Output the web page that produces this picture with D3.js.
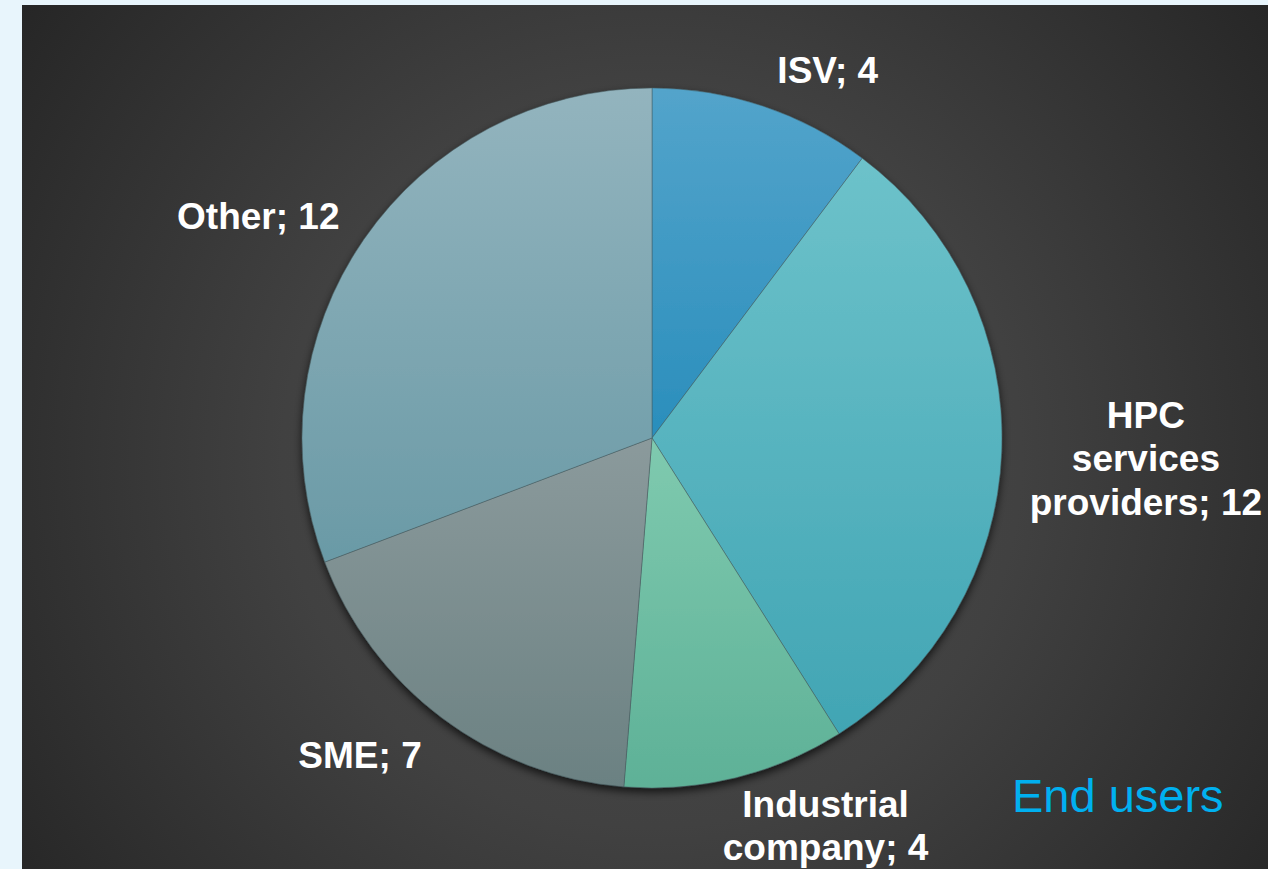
<!DOCTYPE html>
<html>
<head>
<meta charset="utf-8">
<script src="https://cdn.jsdelivr.net/npm/d3@7"></script>
<style>
  html, body { margin: 0; padding: 0; background: #e8f5fc; }
  svg { display: block; }
</style>
</head>
<body>
<script>
// Respondent breakdown
const categories = ["ISV", "HPC services providers", "Industrial company", "SME", "Other"];
const values = [4, 12, 4, 7, 12];
const labelLines = [["ISV; 4"], ["HPC", "services", "providers; 12"], ["Industrial", "company; 4"], ["SME; 7"], ["Other; 12"]];
const sliceTop = ["#53a4cb", "#6dc2ca", "#7fcaaf", "#8b9a9c", "#93b4be"];
const sliceBottom = ["#2a8ebc", "#41a5b4", "#5eb197", "#6b8182", "#6a9aa6"];
const title = "End users";

const W = 1268, H = 869;
const panel = { x: 22, y: 5 };
const cx = 652, cy = 438, R = 350;

const svg = d3.select("body").append("svg").attr("width", W).attr("height", H);
const defs = svg.append("defs");

// dark panel backdrop
const bg = defs.append("radialGradient").attr("id", "bg")
  .attr("gradientUnits", "userSpaceOnUse")
  .attr("cx", cx).attr("cy", cy + 20).attr("r", 820);
bg.append("stop").attr("offset", 0).attr("stop-color", "#4b4b4b");
bg.append("stop").attr("offset", 0.45).attr("stop-color", "#414141");
bg.append("stop").attr("offset", 1).attr("stop-color", "#232323");

svg.append("rect").attr("x", panel.x).attr("y", panel.y)
  .attr("width", W - panel.x).attr("height", H - panel.y)
  .attr("fill", "url(#bg)");

// soft shadow under the pie
const sh = defs.append("filter").attr("id", "shadow")
  .attr("x", "-10%").attr("y", "-10%").attr("width", "120%").attr("height", "125%");
sh.append("feGaussianBlur").attr("in", "SourceAlpha").attr("stdDeviation", 4).attr("result", "b");
sh.append("feOffset").attr("in", "b").attr("dx", 0).attr("dy", 4).attr("result", "o");
sh.append("feComponentTransfer").attr("in", "o").attr("result", "s")
  .append("feFuncA").attr("type", "linear").attr("slope", 0.7);
const m = sh.append("feMerge");
m.append("feMergeNode").attr("in", "s");
m.append("feMergeNode").attr("in", "SourceGraphic");

// per-slice vertical gradients
categories.forEach((c, i) => {
  const g = defs.append("linearGradient").attr("id", "slice" + i)
    .attr("x1", 0).attr("y1", 0).attr("x2", 0).attr("y2", 1);
  g.append("stop").attr("offset", 0).attr("stop-color", sliceTop[i]);
  g.append("stop").attr("offset", 1).attr("stop-color", sliceBottom[i]);
});

const pie = d3.pie().sort(null).value(d => d)(values);
const arc = d3.arc().innerRadius(0).outerRadius(R);

const pieG = svg.append("g").attr("transform", `translate(${cx},${cy})`)
  .attr("filter", "url(#shadow)");
pieG.selectAll("path").data(pie).join("path")
  .attr("d", arc)
  .attr("fill", (d, i) => `url(#slice${i})`)
  .attr("stroke", "rgba(70,90,95,0.6)")
  .attr("stroke-width", 0.8);

// outside-end data labels: the box corner facing the pie sits on the slice's mid ray
const fontSize = 37, lineH = 43.5, gap = 20, padX = 8;
const clamp = v => Math.max(-1, Math.min(1, v));
const labelG = svg.append("g");
pie.forEach((d, i) => {
  const a = (d.startAngle + d.endAngle) / 2;
  const dx = Math.sin(a), dy = -Math.cos(a);
  const ax = cx + (R + gap) * dx, ay = cy + (R + gap) * dy;
  const t = labelG.append("text")
    .attr("font-family", "Liberation Sans, Arial, sans-serif")
    .attr("font-weight", "bold")
    .attr("font-size", fontSize)
    .attr("fill", "#ffffff")
    .attr("text-anchor", "middle");
  labelLines[i].forEach((ln, k) => t.append("tspan").attr("x", 0).attr("y", k * lineH).text(ln));
  const w = t.node().getBBox().width;
  const h = (labelLines[i].length - 1) * lineH + fontSize * 1.02;
  const sx = clamp(dx * 3.2), sy = clamp(dy * 1.3);
  let bx = ax + sx * (w / 2 + padX);
  let top = ay + sy * h / 2 - h / 2;
  // keep the label inside the panel
  top = Math.min(top, H - 5 - h);
  top = Math.max(top, panel.y + 4);
  bx = Math.min(bx, W - 2 - w / 2);
  t.attr("transform", `translate(${bx},${top + fontSize * 0.92})`);
});

svg.append("text")
  .attr("x", 1012).attr("y", 812)
  .attr("font-family", "Liberation Sans, Arial, sans-serif")
  .attr("font-size", 47)
  .attr("fill", "#00b0f0")
  .text(title);
</script>
</body>
</html>
